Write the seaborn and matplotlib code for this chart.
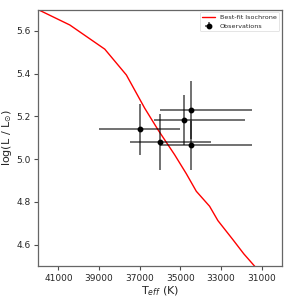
import numpy as np
import pandas as pd
import matplotlib
matplotlib.use("Agg")
import matplotlib.pyplot as plt
import seaborn as sns

# Isochrone
iso_teff = [42000, 40440, 38720, 37656, 36757, 36103, 35283, 34707, 34216,
            33563, 33155, 32418, 31877, 31350, 31150]
iso_logl = [5.700, 5.628, 5.515, 5.394, 5.239, 5.138, 5.021, 4.932, 4.850,
            4.780, 4.713, 4.624, 4.557, 4.500, 4.470]

# Observations
obs_teff = [37000, 36000, 34500, 34500, 34800]
obs_logl = [5.14, 5.08, 5.23, 5.065, 5.185]
obs_teff_err_hi = [2000, 1500, 1500, 1500, 1500]   # toward higher T (left)
obs_teff_err_lo = [2000, 2500, 3000, 3000, 3000]   # toward lower T (right)
obs_logl_err = [0.12, 0.13, 0.135, 0.115, 0.117]

sns.set_style("ticks")
fig = plt.figure(figsize=(3, 3), dpi=100)
ax = fig.add_axes([0.127, 0.113, 0.813, 0.855])

iso = pd.DataFrame({"Teff": iso_teff, "logL": iso_logl})
sns.lineplot(data=iso, x="Teff", y="logL", color="red", lw=1.0, sort=False,
             estimator=None, ax=ax, label="Best-fit Isochrone")

ax.errorbar(obs_teff, obs_logl,
            xerr=[obs_teff_err_lo, obs_teff_err_hi],
            yerr=obs_logl_err, fmt="o", color="k", markersize=3.2,
            ecolor=(0, 0, 0, 0.6), elinewidth=1.3, capsize=0,
            label="Observations")

ax.set_xlim(42000, 30000)
ax.set_ylim(4.5, 5.7)
ax.set_xticks([41000, 39000, 37000, 35000, 33000, 31000])
ax.set_yticks([4.6, 4.8, 5.0, 5.2, 5.4, 5.6])
ax.tick_params(labelsize=6.5, length=3, width=0.8, color="0.3", pad=2.5)
for s in ax.spines.values():
    s.set_color("0.4")
    s.set_linewidth(0.9)

ax.set_xlabel("T$_{eff}$ (K)", fontsize=8, labelpad=1)
ax.set_ylabel(r"log(L / L$_{\odot}$)", fontsize=8, labelpad=1.5)

leg = ax.legend(loc="upper right", fontsize=4.6, frameon=True,
                borderaxespad=0.4)
leg.get_frame().set_edgecolor("0.85")
leg.get_frame().set_linewidth(0.6)

fig.savefig("out.png", dpi=100)
